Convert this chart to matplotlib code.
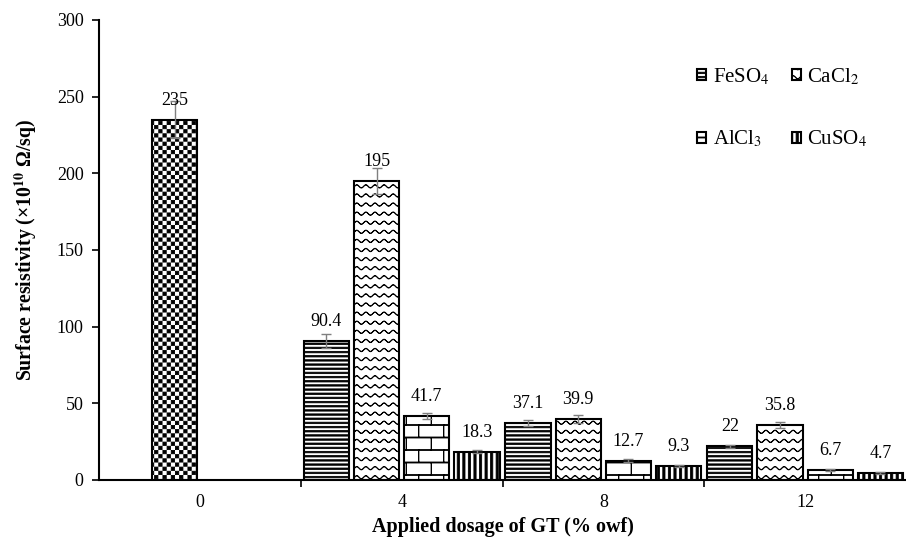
#!/usr/bin/env python

import numpy as np
import matplotlib
matplotlib.use('Agg')
import matplotlib.pyplot as plt
import matplotlib.hatch as mhatch
from matplotlib.path import Path

# datos
categories = ['0', '4', '8', '12']
control_value = 235
control_err = 12
salt_names = ['FeSO$_4$', 'CaCl$_2$', 'AlCl$_3$', 'CuSO$_4$']
feso4 = [90.4, 37.1, 22]
cacl2 = [195, 39.9, 35.8]
alcl3 = [41.7, 12.7, 6.7]
cuso4 = [18.3, 9.3, 4.7]
feso4_err = [4.5, 2.0, 1.0]
cacl2_err = [8.5, 2.5, 2.0]
alcl3_err = [2.0, 1.0, 0.8]
cuso4_err = [1.0, 0.6, 0.5]

HATCH_LW = 0.6      # grosor de linea del patron (pt)
PX = 0.01           # un pixel en unidades del mosaico (100 px a 100 dpi)
LW_PX = HATCH_LW * 100 / 72.0


# ==================================================================
def rect(x0, y0, x1, y1):
    """ Rectangulo cerrado para un patron """
    return ([(x0, y0), (x1, y0), (x1, y1), (x0, y1), (x0, y0)],
            [Path.MOVETO, Path.LINETO, Path.LINETO, Path.LINETO,
             Path.CLOSEPOLY])


class TileHatch(mhatch.HatchPatternBase):
    """ Patron generico hecho de poligonos rellenos """
    char = ''

    def __init__(self, hatch, density):
        n = hatch.count(self.char)
        verts, codes = [], []
        if n:
            for v, c in self.shapes(n, density):
                verts += v
                codes += c
        self.verts = np.array(verts, float).reshape(-1, 2)
        self.codes = np.array(codes, dtype=Path.code_type)
        self.num_vertices = len(self.verts)

    def set_vertices_and_codes(self, vertices, codes):
        vertices[:] = self.verts
        codes[:] = self.codes


class Stripes(TileHatch):
    char = '-'

    def shapes(self, n, density):
        k = n * density
        h = 1.4 * PX
        for i in range(k):
            y = (i + 0.5) / k
            yield rect(0, y - h / 2, 1, y + h / 2)


class Bars(TileHatch):
    char = '|'

    def shapes(self, n, density):
        k = n * density
        w = 2.2 * PX
        for i in range(k):
            x = (i + 0.5) / k
            yield rect(x - w / 2, 0, x + w / 2, 1)


class Waves(TileHatch):
    char = 'o'

    def shapes(self, n, density):
        rows = 11 * n
        periods = 11 * n
        amp = 1.5 * PX
        t = 0.5 * PX
        xs = np.linspace(0, 1, 16 * periods + 1)
        for j in range(rows):
            ys = (j + 0.5) / rows + amp * np.sin(2 * np.pi * periods * xs)
            top = list(zip(xs, ys + t / 2))
            bot = list(zip(xs[::-1], ys[::-1] - t / 2))
            pts = top + bot + [top[0]]
            cds = [Path.MOVETO] + [Path.LINETO] * (len(pts) - 2) + [Path.CLOSEPOLY]
            yield pts, cds


class Bricks(TileHatch):
    char = 'O'

    def shapes(self, n, density):
        rows = 8 * n
        cols = 4 * n
        h = 1.0 * PX
        w = 0.4 * PX
        for j in range(rows):
            y0 = j / rows
            y1 = (j + 1) / rows
            yield rect(0, y0 - h / 2, 1, y0 + h / 2)
            for i in range(cols):
                x = (i + 0.25 + 0.5 * (j % 2)) / cols
                yield rect(x - w / 2, y0, x + w / 2, y1)


class Checker(TileHatch):
    char = '*'

    def shapes(self, n, density):
        cells = 24 * n
        size = 1.0 / cells
        s = size - LW_PX * PX
        for i in range(cells):
            for j in range(cells):
                if (i + j) % 2 == 0:
                    x = (i + 0.5) * size
                    y = (j + 0.5) * size
                    yield rect(x - s / 2, y - s / 2, x + s / 2, y + s / 2)


mhatch._hatch_types = [Stripes, Bars, Waves, Bricks, Checker]


# ==================================================================
def plot_chart(name):
    """ Grafica de barras de resistividad superficial """
    plt.rcParams['font.family'] = 'Liberation Serif'
    plt.rcParams['mathtext.fontset'] = 'stix'
    plt.rcParams['hatch.linewidth'] = HATCH_LW
    plt.rcParams['hatch.color'] = 'black'

    fig = plt.figure(figsize=(9.06, 5.4), dpi=100)
    ax = fig.add_axes([99 / 906, 60 / 540, 807 / 906, 460 / 540])

    x = np.arange(len(categories))
    offsets = (np.arange(4) - 1.5) * 0.249
    width = 0.224
    series = [feso4, cacl2, alcl3, cuso4]
    errors = [feso4_err, cacl2_err, alcl3_err, cuso4_err]
    hatches = ['----', 'o', 'O', '|||']
    err_style = dict(fmt='none', ecolor='#7f7f7f', elinewidth=1.0,
                     capsize=3.5, capthick=1.0, zorder=3)
    label_style = dict(textcoords='offset points', xytext=(0, 14),
                       ha='center', va='center', fontsize=13, zorder=4)

    # control sin sal
    cx = x[0] + offsets[1]
    ax.bar(cx, control_value, width, color='white', edgecolor='black',
           linewidth=1.5, hatch='*', label='_nolegend_', zorder=2)
    ax.errorbar(cx, control_value, yerr=control_err, **err_style)
    ax.annotate('%g' % control_value, (cx, control_value), **label_style)

    handles = []
    for k in range(4):
        bx = x[1:] + offsets[k]
        b = ax.bar(bx, series[k], width, color='white', edgecolor='black',
                   linewidth=1.5, hatch=hatches[k], label=salt_names[k],
                   zorder=2)
        handles.append(b)
        ax.errorbar(bx, series[k], yerr=errors[k], **err_style)
        for xi, v in zip(bx, series[k]):
            ax.annotate('%g' % v, (xi, v), **label_style)

    ax.set_xlim(-0.5, len(categories) - 0.5)
    ax.set_ylim(0, 300)
    ax.set_yticks(np.arange(0, 301, 50))
    ax.set_xticks(x)
    ax.set_xticklabels(categories)
    ax.set_xticks(x[:-1] + 0.5, minor=True)
    ax.tick_params(axis='x', which='major', length=0, pad=10, labelsize=13)
    ax.tick_params(axis='x', which='minor', length=5, width=1.2)
    ax.tick_params(axis='y', length=5, width=1.2, pad=6, labelsize=13)
    for s in ['top', 'right']:
        ax.spines[s].set_visible(False)
    for s in ['left', 'bottom']:
        ax.spines[s].set_linewidth(1.5)

    ax.set_xlabel('Applied dosage of GT (% owf)', fontsize=14.5,
                  fontweight='bold', va='center')
    ax.xaxis.set_label_coords(0.5, -0.102)
    ax.set_ylabel(r'Surface resistivity (×10$^{\mathbf{10}}$ Ω/sq)',
                  fontsize=14.2, fontweight='bold', va='center')
    ax.yaxis.set_label_coords(-0.0905, 0.5)

    # orden por columnas: FeSO4, AlCl3 | CaCl2, CuSO4
    order = [0, 2, 1, 3]
    ax.legend([handles[i] for i in order], [salt_names[i] for i in order],
              loc='upper left', bbox_to_anchor=(687 / 906, 1 - 56 / 540),
              bbox_transform=fig.transFigure, ncol=2, frameon=False,
              fontsize=15, borderpad=0, handlelength=0.43,
              handleheight=0.43, handletextpad=0.3, labelspacing=2.0,
              columnspacing=1.1)

    fig.savefig('%s.png' % name, dpi=100)


# ==================================================================
if __name__ == '__main__':
    plot_chart('out')
